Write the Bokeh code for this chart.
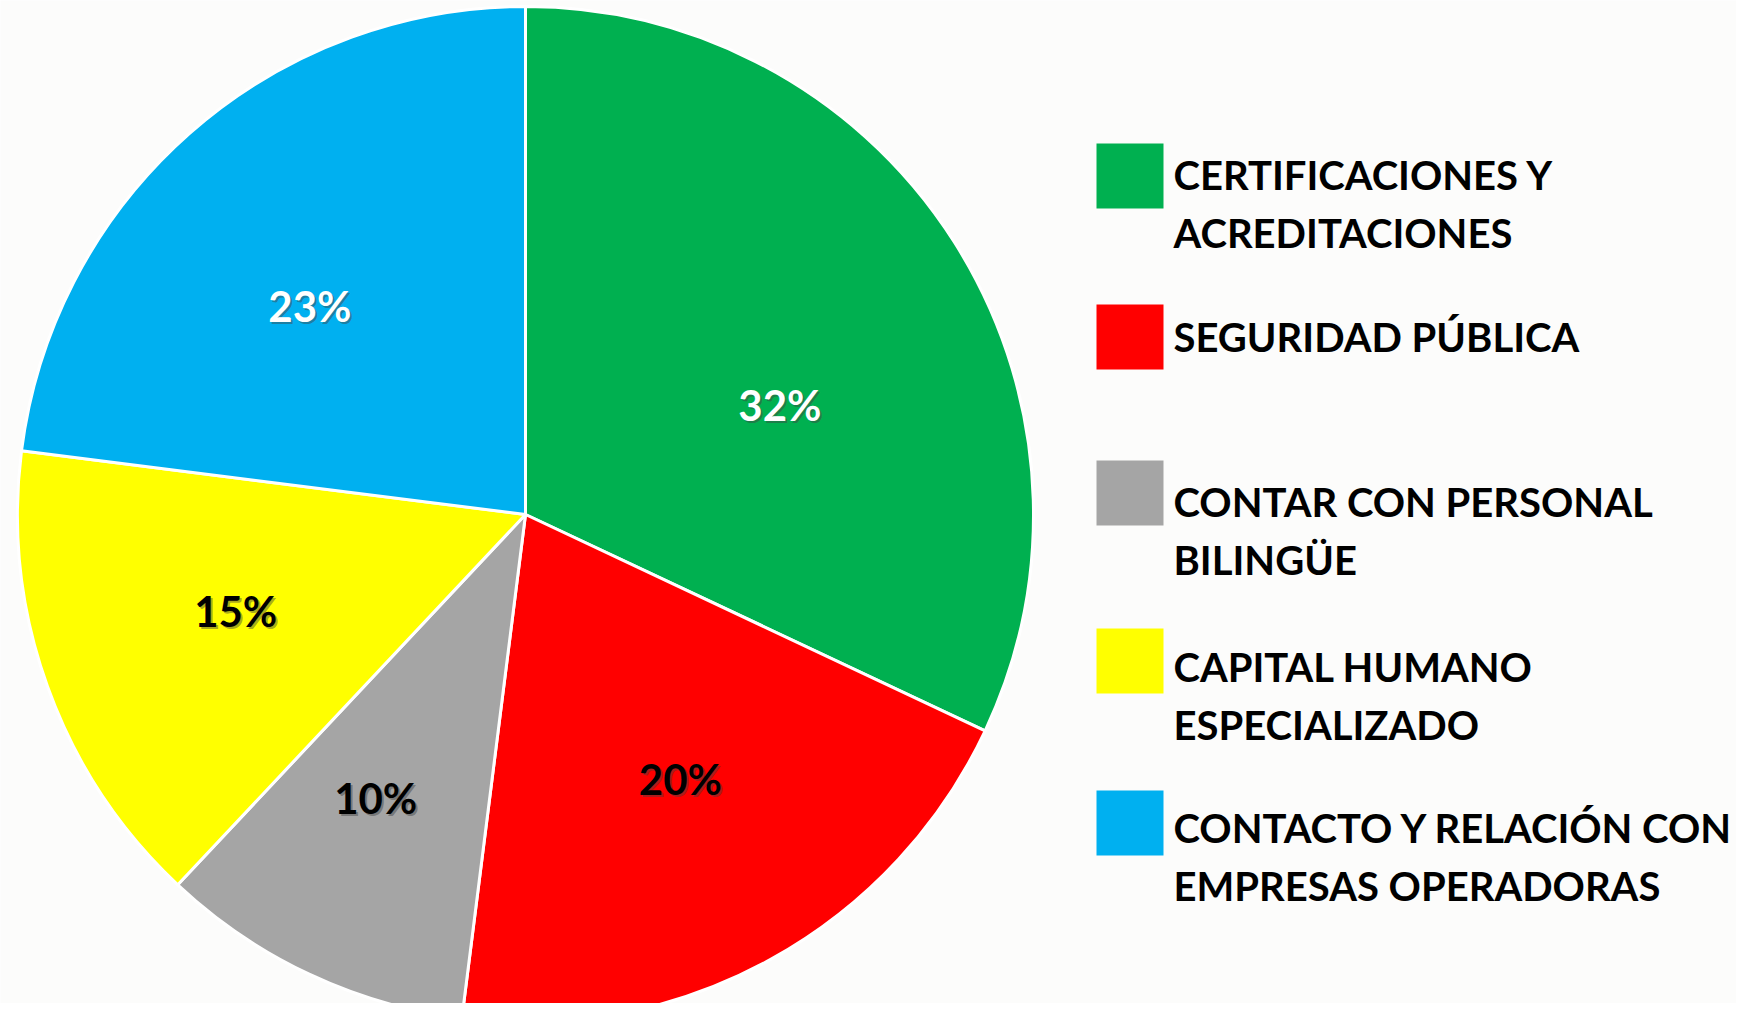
import numpy as np
from bokeh.plotting import figure
from bokeh.models import Range1d, ColumnDataSource
from bokeh.core.properties import value
from bokeh.embed import file_html
from bokeh.resources import INLINE

# ---------------- data ----------------
categories = [
    "CERTIFICACIONES Y ACREDITACIONES",
    "SEGURIDAD PÚBLICA",
    "CONTAR CON PERSONAL BILINGÜE",
    "CAPITAL HUMANO ESPECIALIZADO",
    "CONTACTO Y RELACIÓN CON EMPRESAS OPERADORAS",
]
legend_lines = [
    ["CERTIFICACIONES Y", "ACREDITACIONES"],
    ["SEGURIDAD PÚBLICA"],
    ["CONTAR CON PERSONAL", "BILINGÜE"],
    ["CAPITAL HUMANO", "ESPECIALIZADO"],
    ["CONTACTO Y RELACIÓN CON", "EMPRESAS OPERADORAS"],
]
shares = [32, 20, 10, 15, 23]
colors = ["#00B050", "#FF0000", "#A5A5A5", "#FFFF00", "#00B0F0"]
label_colors = ["#FFFFFF", "#000000", "#000000", "#000000", "#FFFFFF"]

# ---------------- layout (picture pixel coordinates, origin top-left) ----------------
FIG_W, FIG_H = 1736, 1003
CX, CY, R = 525, 514, 508
LABEL_R = 0.6 * R
label_nudge = [(-3, 54), (8, -3), (-20, 8), (-3, -7), (-14, 20)]  # px (right, down)
LABEL_FONT = "42px"
LEGEND_FONT = "40px"
sq_left, sq_w, sq_h = 1096, 67, 65
sq_tops = [143, 304, 460, 628, 790]
txt_x = 1173
txt_first_baseline = [174, 336, 501, 666, 827]
line_gap = 58
FONT = "Lato"
BG = "#FCFCFB"


def Y(py):
    # picture y (down) -> data y (up)
    return FIG_H - py


p = figure(width=FIG_W, height=FIG_H, output_backend="svg", toolbar_location=None,
           x_range=Range1d(0, FIG_W), y_range=Range1d(0, FIG_H),
           min_border=0, border_fill_color=BG, background_fill_color=BG)
p.axis.visible = False
p.grid.visible = False
p.outline_line_color = None

# ---------------- pie ----------------
frac = np.array(shares, dtype=float) / np.sum(shares)
cum = np.concatenate([[0.0], np.cumsum(frac)])
start = np.pi / 2 - 2 * np.pi * cum[:-1]
end = np.pi / 2 - 2 * np.pi * cum[1:]
pie_src = ColumnDataSource(dict(
    x=[CX] * len(shares), y=[Y(CY)] * len(shares),
    start=start, end=end, color=colors, cat=categories))
p.wedge(x="x", y="y", radius=R, radius_units="screen", start_angle="start", end_angle="end",
        direction="clock", fill_color="color", line_color="white", line_width=3, source=pie_src)

# ---------------- percentage labels ----------------
mid = 2 * np.pi * (cum[:-1] + cum[1:]) / 2  # clockwise from top
lx = CX + LABEL_R * np.sin(mid) + np.array([n[0] for n in label_nudge])
ly_pic = CY - LABEL_R * np.cos(mid) + np.array([n[1] for n in label_nudge])
ptxt = [f"{s}%" for s in shares]
lab_src = ColumnDataSource(dict(x=lx, y=[Y(v) for v in ly_pic], t=ptxt, c=label_colors))
p.text(x="x", y="y", text="t", source=lab_src, x_offset=2, y_offset=2,
       text_color="#404040", text_alpha=0.45, text_font=value(FONT), text_font_style="bold",
       text_font_size=LABEL_FONT, text_align="center", text_baseline="middle")
p.text(x="x", y="y", text="t", source=lab_src, text_color="c",
       text_font=value(FONT), text_font_style="bold",
       text_font_size=LABEL_FONT, text_align="center", text_baseline="middle")

# ---------------- legend ----------------
leg_src = ColumnDataSource(dict(
    left=[sq_left] * 5, right=[sq_left + sq_w] * 5,
    top=[Y(t) for t in sq_tops], bottom=[Y(t + sq_h) for t in sq_tops], color=colors))
p.quad(left="left", right="right", top="top", bottom="bottom", fill_color="color",
       line_color=None, source=leg_src)

tx, ty, tt = [], [], []
for i, lines in enumerate(legend_lines):
    for j, ln in enumerate(lines):
        tx.append(txt_x)
        ty.append(Y(txt_first_baseline[i] + j * line_gap))
        tt.append(ln)
p.text(x=tx, y=ty, text=tt, text_color="#000000", text_font=value(FONT),
       text_font_style="bold", text_font_size=LEGEND_FONT,
       text_align="left", text_baseline="alphabetic")

open("out.html", "w").write(file_html(p, INLINE))
